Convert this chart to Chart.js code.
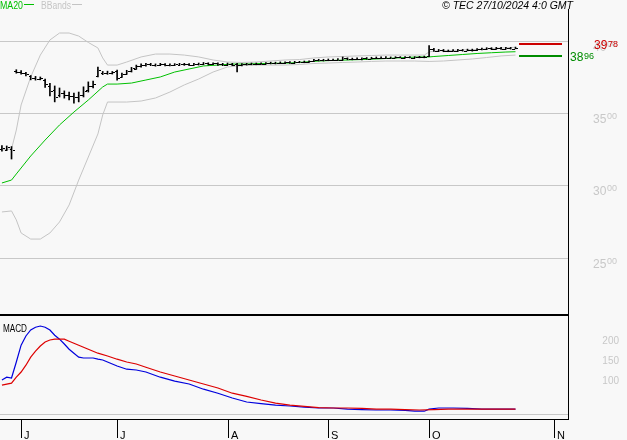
<!DOCTYPE html>
<html>
<head>
<meta charset="utf-8">
<script src="https://cdn.jsdelivr.net/npm/chart.js@4.4.1/dist/chart.umd.min.js"></script>
<style>
  html, body { margin: 0; padding: 0; background: #f8f8f8; }
  #wrap { position: relative; width: 627px; height: 440px; background: #f8f8f8; }
  #wrap canvas { position: absolute; left: 0; }
</style>
</head>
<body>
<div id="wrap">
  <canvas id="price" width="627" height="314" style="top:0"></canvas>
  <canvas id="macd" width="627" height="126" style="top:314px"></canvas>
</div>
<script>
// ── Data (one entry per trading day, index 0 = late May 2024) ──────────────────

const opens = [
  3255, 3250, 3258, 3792, 3788, 3776, 3758, 3748, 3740, 3730,
  3690, 3660, 3628, 3640, 3630, 3622, 3612, 3630, 3660, 3692,
  3762, 3780, 3782, 3778, 3792, 3752, 3774, 3792, 3810, 3828,
  3834, 3838, 3834, 3832, 3840, 3834, 3832, 3836, 3840, 3838,
  3834, 3840, 3842, 3846, 3838, 3846, 3838, 3836, 3842, 3840,
  3832, 3840, 3842, 3840, 3844, 3842, 3848, 3846, 3850, 3848,
  3852, 3850, 3856, 3854, 3858, 3860, 3868, 3866, 3870, 3868,
  3872, 3870, 3880, 3874, 3878, 3876, 3880, 3878, 3884, 3882,
  3886, 3884, 3886, 3888, 3886, 3888, 3886, 3888, 3890, 3900,
  3946, 3934, 3938, 3930, 3934, 3932, 3938, 3934, 3940, 3936,
  3944, 3946, 3950, 3944, 3952, 3946, 3952, 3948,
];
const highs = [
  3278, 3276, 3272, 3802, 3796, 3784, 3762, 3756, 3752, 3738,
  3708, 3690, 3676, 3656, 3648, 3640, 3648, 3684, 3718, 3724,
  3820, 3790, 3792, 3790, 3800, 3778, 3798, 3818, 3834, 3842,
  3846, 3846, 3842, 3846, 3844, 3842, 3844, 3846, 3846, 3844,
  3846, 3848, 3852, 3850, 3850, 3850, 3846, 3848, 3846, 3846,
  3844, 3846, 3848, 3848, 3850, 3852, 3854, 3854, 3856, 3856,
  3858, 3860, 3860, 3862, 3864, 3874, 3874, 3874, 3876, 3876,
  3878, 3890, 3884, 3882, 3884, 3884, 3886, 3888, 3890, 3890,
  3892, 3890, 3892, 3892, 3892, 3892, 3892, 3894, 3896, 3968,
  3950, 3942, 3942, 3938, 3940, 3942, 3942, 3944, 3944, 3948,
  3952, 3954, 3954, 3956, 3956, 3956, 3956, 3958,
];
const lows = [
  3240, 3244, 3186, 3778, 3772, 3760, 3732, 3730, 3732, 3680,
  3622, 3580, 3614, 3606, 3594, 3572, 3580, 3614, 3648, 3676,
  3752, 3768, 3770, 3772, 3730, 3748, 3770, 3786, 3804, 3820,
  3826, 3830, 3826, 3830, 3828, 3828, 3830, 3832, 3832, 3830,
  3832, 3834, 3836, 3834, 3836, 3832, 3830, 3834, 3830, 3786,
  3828, 3834, 3836, 3836, 3838, 3840, 3842, 3842, 3844, 3844,
  3846, 3848, 3850, 3850, 3852, 3858, 3862, 3862, 3864, 3864,
  3866, 3868, 3870, 3870, 3872, 3870, 3874, 3876, 3878, 3878,
  3880, 3880, 3882, 3884, 3882, 3884, 3882, 3884, 3884, 3892,
  3928, 3928, 3926, 3926, 3928, 3928, 3930, 3932, 3930, 3934,
  3938, 3940, 3940, 3942, 3942, 3944, 3944, 3946,
];
const closes = [
  3262, 3266, 3246, 3788, 3781, 3770, 3746, 3740, 3744, 3702,
  3652, 3612, 3642, 3630, 3620, 3612, 3628, 3652, 3690, 3706,
  3800, 3782, 3778, 3784, 3748, 3772, 3790, 3812, 3828, 3834,
  3840, 3836, 3832, 3840, 3834, 3832, 3838, 3840, 3838, 3834,
  3840, 3842, 3846, 3838, 3846, 3838, 3836, 3842, 3836, 3832,
  3840, 3842, 3840, 3844, 3842, 3848, 3846, 3850, 3848, 3852,
  3850, 3856, 3854, 3858, 3860, 3868, 3866, 3870, 3868, 3872,
  3870, 3880, 3874, 3878, 3876, 3880, 3878, 3884, 3882, 3886,
  3884, 3886, 3888, 3886, 3888, 3886, 3888, 3890, 3892, 3948,
  3934, 3938, 3930, 3934, 3932, 3938, 3934, 3940, 3936, 3944,
  3946, 3950, 3944, 3952, 3946, 3952, 3948, 3954,
];

// MA20 and Bollinger bands, read at the listed bar indices
const maIdx = [0, 2, 3, 6, 9, 12, 15, 18, 21, 22, 24, 27, 30, 33, 36, 39, 42, 45, 48, 51,
  54, 57, 60, 63, 66, 69, 72, 75, 78, 81, 84, 87, 89, 90, 93, 96, 99, 102, 105, 107];
const ma20 = [3021, 3041, 3083, 3207, 3317, 3421, 3510, 3593, 3683, 3703, 3703, 3710, 3731, 3752, 3786, 3807, 3828, 3834, 3841, 3841,
  3845, 3846, 3848, 3855, 3862, 3866, 3869, 3872, 3876, 3881, 3886, 3890, 3890, 3893, 3900, 3907, 3914, 3919, 3924, 3926];

const upIdx = [0, 2, 3, 4, 6, 8, 10, 12, 14, 16, 18, 20, 21, 22, 24, 26, 29, 32, 35, 38, 41, 44, 47,
  50, 53, 56, 59, 62, 65, 68, 71, 74, 77, 80, 83, 86, 88, 89, 90, 93, 96, 99, 102, 105, 107];
const bbUpper = [3248, 3255, 3386, 3559, 3752, 3903, 4007, 4055, 4055, 4034, 3990, 3952, 3883, 3834, 3834, 3855, 3890, 3910, 3910, 3903, 3890, 3869, 3855,
  3852, 3855, 3862, 3869, 3872, 3883, 3890, 3893, 3897, 3900, 3903, 3903, 3903, 3903, 3924, 3931, 3934, 3938, 3941, 3948, 3953, 3957];

const loIdx = [0, 2, 3, 4, 6, 8, 10, 12, 14, 16, 18, 20, 21, 22, 26, 29, 32, 35, 38, 41, 44, 47,
  50, 53, 56, 59, 62, 65, 68, 71, 74, 77, 80, 83, 86, 89, 92, 95, 98, 101, 104, 107];
const bbLower = [2821, 2828, 2766, 2676, 2634, 2634, 2676, 2752, 2869, 3041, 3200, 3359, 3490, 3579, 3579, 3586, 3607, 3648, 3697, 3738, 3786, 3821,
  3831, 3834, 3834, 3834, 3838, 3845, 3848, 3852, 3855, 3859, 3862, 3862, 3862, 3859, 3862, 3869, 3876, 3886, 3897, 3903];

// MACD panel
const macdIdx = [0, 1, 2, 3, 4, 5, 6, 7, 8, 9, 10, 11, 12, 13, 14, 15, 16, 17, 18, 19, 20, 21, 22, 24, 26, 28, 30,
  33, 36, 39, 42, 45, 48, 51, 54, 57, 60, 63, 66, 69, 72, 75, 78, 81, 84, 86, 88, 89, 91, 94, 97, 100, 103, 107];
const macdLine = [85, 92, 90, 130, 172, 195, 210, 217, 220, 217, 210, 197, 187, 175, 162, 152, 142, 140, 140, 140, 137, 135, 130, 120, 112, 110, 105,
  92, 82, 75, 62, 52, 40, 30, 26, 22, 20, 17, 15, 15, 12, 11, 10, 10, 9, 7, 7, 12, 15, 15, 14, 12, 12, 12];

const sigIdx = [0, 2, 3, 4, 5, 6, 7, 8, 9, 10, 11, 12, 13, 14, 15, 16, 18, 20, 22, 24, 26, 28, 30,
  33, 36, 39, 42, 45, 48, 51, 54, 57, 60, 63, 66, 69, 72, 75, 78, 81, 84, 87, 90, 93, 100, 107];
const signalLine = [72, 77, 92, 105, 122, 142, 157, 170, 180, 185, 187, 187, 187, 182, 177, 172, 162, 152, 145, 137, 130, 125, 117,
  105, 95, 85, 75, 65, 52, 44, 35, 27, 22, 19, 16, 15, 15, 14, 12, 12, 11, 10, 11, 12, 12, 12];

// axis ticks
const monthIdx    = [4, 24, 47, 68, 89, 115];
const monthLabels = ['J', 'J', 'A', 'S', 'O', 'N'];
const priceTicks  = [4000, 3500, 3000, 2500];
const macdTicks   = [200, 150, 100];

const lastClose = 3978;
const lastMa    = 3896;

// ── Styles ────────────────────────────────────────────────────────────────────

const BG    = '#f8f8f8';
const GRID  = '#c8c8c8';
const BAND  = '#c4c4c4';
const GREEN = '#00c000';
const FONT  = '"Liberation Sans", Arial, sans-serif';
const X_MIN = -0.4;
const X_MAX = 117.94;

const pts = (idx, vals) => idx.map((i, k) => ({ x: i, y: vals[k] }));

// "3500" is drawn as a big "35" and a raised, smaller "00"
function splitLabel(ctx, text, x, yBig, ySmall, color) {
  ctx.fillStyle = color;
  ctx.textAlign = 'left';
  ctx.textBaseline = 'alphabetic';
  ctx.font = `12px ${FONT}`;
  ctx.fillText(text.slice(0, 2), x, yBig);
  ctx.font = `9px ${FONT}`;
  ctx.fillText(text.slice(2), x + 14, ySmall);
}

// ── Price panel ───────────────────────────────────────────────────────────────

const pricePanel = {
  id: 'pricePanel',
  beforeDatasetsDraw(chart) {
    const { ctx, scales: { y }, chartArea } = chart;
    ctx.save();
    ctx.fillStyle = GRID;
    priceTicks.forEach((v) => {
      ctx.fillRect(0, Math.floor(y.getPixelForValue(v)), chartArea.right, 1);
    });
    ctx.restore();
  },
  afterDatasetsDraw(chart) {
    const { ctx, scales: { x, y } } = chart;
    ctx.save();
    ctx.fillStyle = '#000';
    closes.forEach((c, i) => {
      const px = Math.round(x.getPixelForValue(i));
      ctx.fillRect(px - 2, Math.round(y.getPixelForValue(opens[i])), 2, 1);
      ctx.fillRect(px + 1, Math.round(y.getPixelForValue(c)), 2, 1);
    });
    ctx.restore();
  },
  afterDraw(chart) {
    const { ctx, scales: { y }, chartArea } = chart;
    ctx.save();

    // right border
    ctx.fillStyle = '#000';
    ctx.fillRect(chartArea.right, 9, 1, chartArea.bottom - 9);

    // axis labels
    priceTicks.forEach((v) => {
      const gy = Math.floor(y.getPixelForValue(v));
      splitLabel(ctx, String(v), 593, gy + 10, gy + 6, GRID);
    });

    // last value markers
    const yc = Math.round(y.getPixelForValue(lastClose));
    const ym = Math.round(y.getPixelForValue(lastMa));
    ctx.fillStyle = '#cc0000';
    ctx.fillRect(519, yc - 1, 43, 2);
    ctx.fillStyle = '#008c00';
    ctx.fillRect(519, ym - 1, 43, 2);
    splitLabel(ctx, String(lastClose), 594, yc + 5, yc + 3, '#cc0000');
    splitLabel(ctx, String(lastMa), 570, ym + 5, ym + 3, '#008c00');

    // legend
    ctx.font = `10px ${FONT}`;
    ctx.textBaseline = 'alphabetic';
    ctx.textAlign = 'left';
    ctx.fillStyle = GREEN;
    ctx.fillText('MA20', 0, 9, 23);
    ctx.fillRect(24, 4, 10, 1);
    ctx.fillStyle = BAND;
    ctx.fillText('BBands', 41, 9, 30);
    ctx.fillRect(72, 4, 10, 1);

    // title
    ctx.fillStyle = '#000';
    ctx.font = `italic 11px ${FONT}`;
    ctx.textAlign = 'right';
    ctx.fillText('\u00a9 TEC 27/10/2024 4:0 GMT', 573, 9, 131);

    ctx.restore();
  },
};

new Chart(document.getElementById('price'), {
  type: 'bar',
  data: {
    datasets: [
      {
        type: 'bar',
        data: closes.map((c, i) => ({ x: i, y: [lows[i], highs[i]] })),
        backgroundColor: '#000',
        barThickness: 1,
        order: 0,
      },
      {
        type: 'line',
        data: pts(maIdx, ma20),
        borderColor: GREEN,
        borderWidth: 1,
        pointRadius: 0,
        order: 1,
      },
      {
        type: 'line',
        data: pts(upIdx, bbUpper),
        borderColor: BAND,
        borderWidth: 1,
        pointRadius: 0,
        order: 2,
      },
      {
        type: 'line',
        data: pts(loIdx, bbLower),
        borderColor: BAND,
        borderWidth: 1,
        pointRadius: 0,
        order: 2,
      },
    ],
  },
  options: {
    responsive: false,
    animation: false,
    layout: { padding: { left: 0, right: 59, top: 0, bottom: 0 } },
    plugins: { legend: { display: false }, tooltip: { enabled: false } },
    scales: {
      x: { type: 'linear', min: X_MIN, max: X_MAX, display: false, offset: false },
      y: { min: 2117.24, max: 4282.76, display: false },
    },
  },
  plugins: [pricePanel],
});

// ── MACD panel ────────────────────────────────────────────────────────────────

const macdPanel = {
  id: 'macdPanel',
  beforeDatasetsDraw(chart) {
    const { ctx, scales: { y }, chartArea } = chart;
    ctx.save();
    ctx.fillStyle = GRID;
    ctx.fillRect(0, Math.round(y.getPixelForValue(0)), chartArea.right, 1);
    ctx.restore();
  },
  afterDraw(chart) {
    const { ctx, scales: { x, y }, chartArea } = chart;
    ctx.save();
    ctx.fillStyle = '#000';
    ctx.fillRect(0, 0, chartArea.right, 2);
    ctx.fillRect(0, chartArea.bottom, chartArea.right + 1, 1);
    ctx.fillRect(chartArea.right, 0, 1, chartArea.bottom + 1);

    ctx.font = `10px ${FONT}`;
    ctx.textAlign = 'left';
    ctx.textBaseline = 'alphabetic';
    ctx.fillText('MACD', 3, 18, 24);

    ctx.font = `11px ${FONT}`;
    monthIdx.forEach((i, k) => {
      const px = Math.round(x.getPixelForValue(i));
      ctx.fillRect(px, chartArea.bottom, 1, 19);
      ctx.fillText(monthLabels[k], px + 3, 124.5);
    });

    ctx.font = `10px ${FONT}`;
    ctx.fillStyle = GRID;
    ctx.textAlign = 'right';
    macdTicks.forEach((v) => {
      ctx.fillText(String(v), 619, Math.round(y.getPixelForValue(v)) + 9.5);
    });
    ctx.restore();
  },
};

new Chart(document.getElementById('macd'), {
  type: 'line',
  data: {
    datasets: [
      {
        data: pts(macdIdx, macdLine),
        borderColor: '#0000dd',
        borderWidth: 1.2,
        pointRadius: 0,
        order: 1,
      },
      {
        data: pts(sigIdx, signalLine),
        borderColor: '#dd0000',
        borderWidth: 1.2,
        pointRadius: 0,
        order: 0,
      },
    ],
  },
  options: {
    responsive: false,
    animation: false,
    layout: { padding: { left: 0, right: 59, top: 2, bottom: 21 } },
    plugins: { legend: { display: false }, tooltip: { enabled: false } },
    scales: {
      x: { type: 'linear', min: X_MIN, max: X_MAX, display: false },
      y: { min: -12.5, max: 245, display: false },
    },
  },
  plugins: [macdPanel],
});
</script>
</body>
</html>
